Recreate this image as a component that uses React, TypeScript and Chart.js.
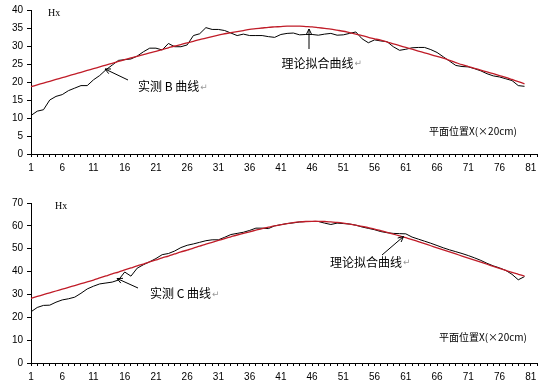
import React, { useEffect, useRef } from 'react';
import { Chart, registerables } from 'chart.js';

Chart.register(...registerables);

// ---------- data ----------
const categories: string[] = Array.from({ length: 82 }, (_, i) => String(i + 1));
const xTickLabels: string[] = ['1', '6', '11', '16', '21', '26', '31', '36', '41', '46', '51', '56', '61', '66', '71', '76', '81'];
const yTicksB: number[] = [0, 5, 10, 15, 20, 25, 30, 35, 40];
const yTicksC: number[] = [0, 10, 20, 30, 40, 50, 60, 70];

const measuredB: number[] = [
  10.7, 11.9, 12.3, 15.0, 16.0, 16.5, 17.6, 18.3, 19.0, 19.0,
  20.6, 21.8, 23.4, 24.7, 26.0, 26.2, 26.4, 27.2, 28.4, 29.4,
  29.4, 28.9, 30.7, 29.8, 29.8, 30.3, 32.9, 33.4, 35.1, 34.6,
  34.6, 34.3, 33.6, 32.9, 33.3, 32.9, 32.9, 32.9, 32.6, 32.4,
  33.2, 33.5, 33.6, 33.1, 33.2, 33.2, 33.0, 33.3, 33.5, 33.0,
  33.1, 33.5, 33.9, 32.0, 30.9, 31.7, 31.4, 31.2, 29.8, 28.8,
  29.1, 29.5, 29.6, 29.6, 29.0, 28.2, 27.0, 25.8, 24.6, 24.3,
  24.2, 23.7, 23.1, 22.3, 21.7, 21.4, 20.9, 20.4, 19.0, 18.8,
];
const fitB: number[] = [
  18.7, 19.2, 19.7, 20.2, 20.7, 21.2, 21.7, 22.2, 22.7, 23.2,
  23.7, 24.2, 24.7, 25.2, 25.7, 26.2, 26.7, 27.1, 27.6, 28.1,
  28.5, 29.0, 29.5, 30.0, 30.4, 30.9, 31.3, 31.8, 32.2, 32.6,
  33.0, 33.4, 33.7, 34.0, 34.3, 34.6, 34.8, 35.0, 35.2, 35.3,
  35.4, 35.5, 35.5, 35.5, 35.4, 35.3, 35.1, 34.9, 34.7, 34.4,
  34.1, 33.7, 33.3, 32.9, 32.4, 32.0, 31.6, 31.1, 30.6, 30.1,
  29.6, 29.1, 28.6, 28.1, 27.6, 27.1, 26.6, 26.0, 25.4, 24.8,
  24.3, 23.8, 23.3, 22.8, 22.3, 21.8, 21.3, 20.7, 20.1, 19.5,
];
const measuredC: number[] = [
  22.4, 24.3, 25.2, 25.3, 26.6, 27.6, 28.1, 28.8, 30.5, 32.4,
  33.6, 34.6, 35.0, 35.4, 36.3, 39.8, 38.0, 41.5, 43.0, 44.3,
  45.7, 47.4, 47.9, 49.0, 50.5, 51.5, 52.1, 52.8, 53.5, 53.9,
  53.9, 55.0, 56.2, 56.7, 57.2, 58.0, 59.0, 59.0, 58.8, 60.0,
  60.5, 61.0, 61.3, 61.7, 61.9, 61.9, 61.9, 61.2, 60.6, 61.2,
  61.0, 60.8, 60.3, 59.5, 58.9, 58.3, 57.5, 57.0, 56.7, 56.6,
  56.5, 55.1, 54.2, 53.3, 52.4, 51.4, 50.4, 49.5, 48.7, 47.9,
  47.0, 46.0, 44.9, 43.6, 42.5, 41.6, 40.5, 38.8, 36.4, 37.8,
];
const fitC: number[] = [
  28.3, 29.1, 29.9, 30.7, 31.5, 32.3, 33.1, 33.9, 34.7, 35.5,
  36.3, 37.2, 38.1, 39.0, 39.8, 40.7, 41.6, 42.5, 43.3, 44.2,
  45.1, 46.0, 46.8, 47.7, 48.6, 49.4, 50.3, 51.1, 52.0, 52.8,
  53.6, 54.4, 55.2, 56.0, 56.7, 57.4, 58.1, 58.8, 59.4, 60.0,
  60.5, 61.0, 61.4, 61.7, 61.9, 62.0, 62.0, 61.9, 61.7, 61.5,
  61.2, 60.8, 60.3, 59.8, 59.2, 58.6, 57.9, 57.2, 56.4, 55.6,
  54.8, 54.0, 53.1, 52.2, 51.3, 50.4, 49.5, 48.6, 47.7, 46.8,
  45.9, 45.0, 44.1, 43.2, 42.3, 41.4, 40.5, 39.6, 38.8, 38.0,
];

const yLabel = 'Hx';
const xTitle = '平面位置X(×20cm)';
const fitTitle = '理论拟合曲线';
const measuredTitleB = '实测 B 曲线';
const measuredTitleC = '实测 C 曲线';

const RED = '#c01c28';
const TICK_FONT = { family: 'Liberation Sans', size: 10 };

type Note = { text: string; x: number; y: number; size: number; arrow?: [number, number, number, number]; mark?: boolean; family?: string };

function drawArrow(ctx: CanvasRenderingContext2D, x1: number, y1: number, x2: number, y2: number) {
  ctx.save();
  ctx.strokeStyle = '#000';
  ctx.lineWidth = 1;
  ctx.beginPath();
  ctx.moveTo(x1, y1);
  ctx.lineTo(x2, y2);
  const a = Math.atan2(y2 - y1, x2 - x1);
  const L = 6;
  ctx.moveTo(x2, y2);
  ctx.lineTo(x2 - L * Math.cos(a - 0.45), y2 - L * Math.sin(a - 0.45));
  ctx.moveTo(x2, y2);
  ctx.lineTo(x2 - L * Math.cos(a + 0.45), y2 - L * Math.sin(a + 0.45));
  ctx.stroke();
  ctx.restore();
}

function notesPlugin(notes: Note[]) {
  return {
    id: 'notes',
    afterDraw(chart: any) {
      const ctx: CanvasRenderingContext2D = chart.ctx;
      ctx.save();
      ctx.textBaseline = 'middle';
      ctx.textAlign = 'left';
      for (const n of notes) {
        ctx.font = `${n.size}px ${n.family || "'Noto Sans CJK SC'"}`;
        ctx.fillStyle = '#000';
        ctx.fillText(n.text, n.x, n.y);
        if (n.mark) {
          const w = ctx.measureText(n.text).width;
          ctx.font = `9px 'DejaVu Sans'`;
          ctx.fillStyle = '#999';
          ctx.fillText('↵', n.x + w + 1, n.y + 1);
        }
        if (n.arrow) drawArrow(ctx, n.arrow[0], n.arrow[1], n.arrow[2], n.arrow[3]);
      }
      ctx.restore();
    },
  };
}

function makeConfig(measured: number[], fit: number[], yTicks: number[], padTop: number, xHeight: number, notes: Note[]): any {
  return {
    type: 'line',
    data: {
      labels: categories,
      datasets: [
        { data: fit, borderColor: RED, borderWidth: 1.3, pointRadius: 0, tension: 0.3, fill: false },
        { data: measured, borderColor: '#000', borderWidth: 1, pointRadius: 0, tension: 0, fill: false },
      ],
    },
    options: {
      responsive: false,
      animation: false,
      events: [],
      layout: { padding: { top: padTop, right: 7, left: 0, bottom: 0 } },
      plugins: { legend: { display: false }, tooltip: { enabled: false }, title: { display: false } },
      scales: {
        x: {
          type: 'category',
          offset: false,
          afterFit: (s: any) => { s.height = xHeight; },
          border: { display: true, color: '#000', width: 1 },
          grid: { drawOnChartArea: false, drawTicks: true, tickLength: 3, color: '#000', lineWidth: 1 },
          ticks: {
            autoSkip: false,
            maxRotation: 0,
            minRotation: 0,
            padding: 5,
            color: '#000',
            font: TICK_FONT,
            callback: (_v: any, idx: number) => (xTickLabels.includes(categories[idx]) ? categories[idx] : ''),
          },
        },
        y: {
          min: yTicks[0],
          max: yTicks[yTicks.length - 1],
          afterFit: (s: any) => { s.width = 31; },
          afterBuildTicks: (s: any) => { s.ticks = yTicks.map((v) => ({ value: v })); },
          border: { display: true, color: '#000', width: 1 },
          grid: { drawOnChartArea: false, drawTicks: true, tickLength: 4, color: '#000', lineWidth: 1 },
          ticks: { padding: 4, color: '#000', font: TICK_FONT },
        },
      },
    },
    plugins: [notesPlugin(notes)],
  };
}

const notesB: Note[] = [
  { text: yLabel, x: 48, y: 13, size: 10, family: "'Liberation Serif'" },
  { text: measuredTitleB, x: 138, y: 86.5, size: 12, mark: true, arrow: [128, 80, 105, 69] },
  { text: fitTitle, x: 281.5, y: 63, size: 12, mark: true, arrow: [309, 49, 309, 29] },
  { text: xTitle, x: 429, y: 131, size: 10 },
];
const notesC: Note[] = [
  { text: yLabel, x: 55, y: 20.5, size: 10, family: "'Liberation Serif'" },
  { text: measuredTitleC, x: 150, y: 107.5, size: 12, mark: true, arrow: [138, 102, 117, 92.5] },
  { text: fitTitle, x: 330, y: 76, size: 12, mark: true, arrow: [382, 69, 403.5, 50.5] },
  { text: xTitle, x: 439, y: 151, size: 10 },
];

function LineChart({ measured, fit, yTicks, padTop, xHeight, notes, width, height, top }: any) {
  const ref = useRef<HTMLCanvasElement | null>(null);
  useEffect(() => {
    if (!ref.current) return;
    const chart = new Chart(ref.current, makeConfig(measured, fit, yTicks, padTop, xHeight, notes));
    return () => chart.destroy();
  }, []);
  return (
    <canvas
      ref={ref}
      width={width}
      height={height}
      style={{ position: 'absolute', left: 0, top, width, height, display: 'block' }}
    />
  );
}

export default function App() {
  return (
    <div style={{ position: 'absolute', left: 0, top: 0, width: 544, height: 386, background: '#fff' }}>
      <LineChart measured={measuredB} fit={fitB} yTicks={yTicksB} padTop={9} xHeight={22} notes={notesB} width={544} height={176} top={0} />
      <LineChart measured={measuredC} fit={fitC} yTicks={yTicksC} padTop={17} xHeight={23} notes={notesC} width={544} height={200} top={186} />
    </div>
  );
}
